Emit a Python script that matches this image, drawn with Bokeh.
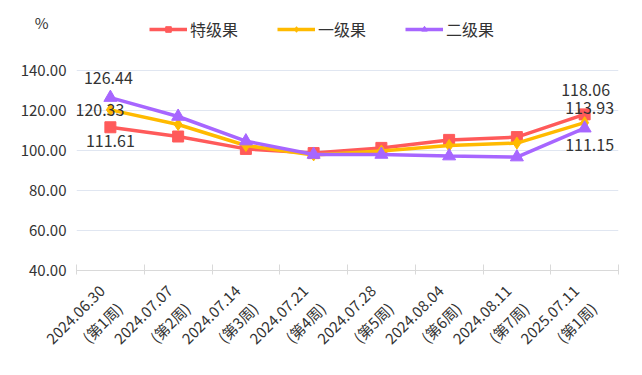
import math
from bokeh.plotting import figure
from bokeh.models import (FixedTicker, PrintfTickFormatter, Legend, LegendItem,
                          Range1d, LinearAxis, ColumnDataSource)
from bokeh.core.properties import value
from bokeh.embed import file_html
from bokeh.resources import INLINE

categories = ["2024.06.30\n(第1周)", "2024.07.07\n(第2周)", "2024.07.14\n(第3周)",
              "2024.07.21\n(第4周)", "2024.07.28\n(第5周)", "2024.08.04\n(第6周)",
              "2024.08.11\n(第7周)", "2025.07.11\n(第1周)"]
series_names = ["特级果", "一级果", "二级果"]
tegui = [111.61, 107.0, 100.8, 98.7, 101.3, 105.3, 106.7, 118.06]
yiji = [120.33, 113.0, 102.5, 97.8, 99.7, 102.5, 103.7, 113.93]
erji = [126.44, 117.0, 104.7, 98.0, 98.0, 97.2, 96.7, 111.15]
y_ticks = [40, 60, 80, 100, 120, 140]
unit_label = "%"

colors = ["#FF5A5A", "#FFBA00", "#A766FF"]
markers = ["square", "diamond", "triangle"]
msizes = [11, 12, 13]
FONT = "Noto Sans CJK SC"
TXT = "#333333"

xs = [i + 0.5 for i in range(len(categories))]
Y_TOP = 175      # headroom above the 140 grid line for legend / unit text
UNIT_Y = 164

p = figure(frame_width=542, frame_height=270, output_backend="svg", toolbar_location=None,
           x_range=Range1d(0, len(categories)), y_range=Range1d(y_ticks[0], Y_TOP),
           min_border_left=76, min_border_right=8, min_border_top=0,
           min_border_bottom=6)
p.outline_line_color = None
p.xgrid.visible = False
p.ygrid.grid_line_color = "#E0E6F1"
p.ygrid.ticker = FixedTicker(ticks=y_ticks)

p.yaxis.ticker = FixedTicker(ticks=y_ticks)
p.yaxis.formatter = PrintfTickFormatter(format="%.2f")
p.yaxis.axis_line_color = None
p.yaxis.major_tick_line_color = None
p.yaxis.minor_tick_line_color = None
p.yaxis.major_tick_out = 0
p.yaxis.major_label_text_font = FONT
p.yaxis.major_label_text_font_size = "15px"
p.yaxis.major_label_text_color = TXT
p.yaxis.major_label_standoff = 10

unit_axis = LinearAxis(ticker=FixedTicker(ticks=[UNIT_Y]),
                       major_label_overrides={UNIT_Y: unit_label},
                       axis_line_color=None, major_tick_line_color=None,
                       minor_tick_line_color=None, major_tick_out=0,
                       major_label_text_align="center",
                       major_label_standoff=-31,
                       major_label_text_font=FONT, major_label_text_font_size="15px",
                       major_label_text_color=TXT)
p.add_layout(unit_axis, "left")

p.xaxis.ticker = FixedTicker(ticks=xs, minor_ticks=list(range(len(categories) + 1)))
p.xaxis.major_label_overrides = {x: c for x, c in zip(xs, categories)}
p.xaxis.major_tick_line_color = None
p.xaxis.minor_tick_line_color = "#D9D9D9"
p.xaxis.minor_tick_in = 6
p.xaxis.minor_tick_out = 4
p.xaxis.axis_line_color = "#D9D9D9"
p.xaxis.major_label_orientation = math.pi / 4
p.xaxis.major_label_text_font = FONT
p.xaxis.major_label_text_font_size = "15px"
p.xaxis.major_label_text_color = TXT
p.xaxis.major_label_standoff = 20

items = []
for name, vals, c, m, s in zip(series_names, [tegui, yiji, erji], colors, markers, msizes):
    src = ColumnDataSource(dict(x=xs, y=vals))
    r1 = p.line("x", "y", source=src, line_color=c, line_width=3.5)
    r2 = p.scatter("x", "y", source=src, marker=m, size=s, fill_color=c, line_color=c)
    items.append(LegendItem(label=name, renderers=[r1, r2]))

legend = Legend(items=items, orientation="horizontal", location=(73, 229),
                label_text_font=FONT, label_text_font_size="16px",
                label_text_color=TXT, glyph_width=38, glyph_height=14,
                spacing=39, border_line_color=None, background_fill_alpha=0,
                padding=4, margin=0, label_standoff=3)
p.add_layout(legend)

# value labels at first and last points
lab_specs = [
    (tegui, 0, "center", 0, 14),
    (yiji, 0, "right", 14, 0),
    (erji, 0, "center", -2, -20),
    (tegui, -1, "center", 1, -24),
    (yiji, -1, "center", 5, -15),
    (erji, -1, "center", 5, 17),
]
lx, ly, lt, la, lox, loy = [], [], [], [], [], []
for vals, idx, align, ox, oy in lab_specs:
    lx.append(xs[idx]); ly.append(vals[idx]); lt.append("%.2f" % vals[idx])
    la.append(align); lox.append(ox); loy.append(oy)
lsrc = ColumnDataSource(dict(x=lx, y=ly, t=lt, a=la, ox=lox, oy=loy))
p.text("x", "y", text="t", source=lsrc, text_align="a", text_baseline="middle",
       x_offset="ox", y_offset="oy", text_font=value(FONT), text_font_size="16px",
       text_color=TXT)

open("out.html", "w").write(file_html(p, INLINE))
